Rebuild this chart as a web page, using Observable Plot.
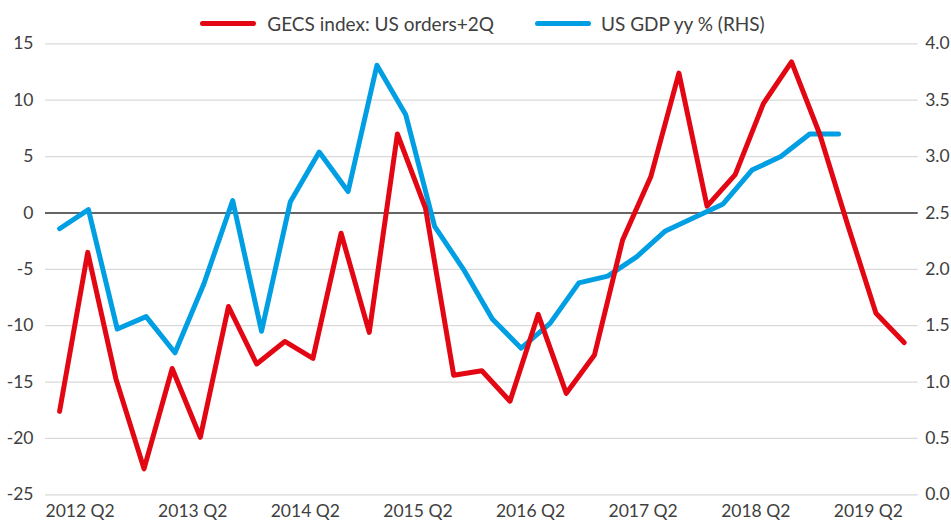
<!DOCTYPE html>
<html>
<head>
<meta charset="utf-8">
<script src="https://cdn.jsdelivr.net/npm/d3@7"></script>
<script src="https://cdn.jsdelivr.net/npm/@observablehq/plot@0.6"></script>
<style>
  body { margin: 0; background: #fff; font-family: Lato, sans-serif; color: #404040; }
  #legend { height: 40px; box-sizing: border-box; padding-top: 7px; padding-left: 14px;
            display: flex; justify-content: center; align-items: center; font-size: 19px; }
  .sw { display: inline-block; width: 56px; height: 5px; border-radius: 2.5px; margin-right: 11px; }
  .item { display: flex; align-items: center; }
  .item + .item { margin-left: 41px; }
  #chart svg { display: block; overflow: visible; }
</style>
</head>
<body>
<div id="legend"></div>
<div id="chart"></div>
<script>
// ---- data ----
const quarterLabels = ["2012 Q2", "2013 Q2", "2014 Q2", "2015 Q2", "2016 Q2", "2017 Q2", "2018 Q2", "2019 Q2"];
// GECS index: US orders +2Q (LHS), one value per quarter from 2012 Q2 to 2019 Q4
const gecsOrders = [-17.6, -3.5, -14.7, -22.7, -13.8, -19.9, -8.3, -13.4, -11.4, -12.9,
                    -1.8, -10.6, 7.0, 0.4, -14.4, -14.0, -16.7, -9.0, -16.0, -12.6,
                    -2.4, 3.2, 12.4, 0.6, 3.4, 9.7, 13.4, 7.0, -1.1, -8.9, -11.5];
// US GDP yy % (RHS)
const usGdp = [2.36, 2.53, 1.47, 1.58, 1.26, 1.87, 2.61, 1.45, 2.60, 3.04,
               2.69, 3.81, 3.37, 2.38, 2.00, 1.56, 1.30, 1.52, 1.88, 1.94,
               2.11, 2.34, 2.46, 2.58, 2.88, 3.00, 3.20, 3.20];
const seriesNames = ["GECS index: US orders+2Q", "US GDP yy % (RHS)"];
const seriesColors = ["#e30613", "#009fe3"];

// ---- scales helpers ----
// secondary (RHS) value axis: 2.5 aligned with 0 on LHS, 0.5 per 5 LHS units
const rhsToLhs = v => (v - 2.5) * 10;
const lhsToRhs = d => d / 10 + 2.5;
// secondary category axis for the GDP series (slightly wider spacing than the primary one)
const gdpX = d3.scaleLinear([0, usGdp.length - 1], [0, 27.67]);

const redData = gecsOrders.map((v, i) => ({i, v}));
const blueData = usGdp.map((v, i) => ({i: gdpX(i), v: rhsToLhs(v)}));
const labelData = quarterLabels.map((t, k) => ({t, i: k * 4 - 0.5}));
const yTicks = d3.range(-25, 16, 5);

// ---- legend ----
const legend = document.getElementById("legend");
seriesNames.forEach((n, k) => {
  const it = document.createElement("div");
  it.className = "item";
  it.innerHTML = `<span class="sw" style="background:${seriesColors[k]};${k ? "margin-right:10px" : ""}"></span><span>${n}</span>`;
  legend.appendChild(it);
});

// ---- chart ----
const chart = Plot.plot({
  width: 951,
  height: 480,
  marginTop: 3.3,
  marginBottom: 25.7,
  marginLeft: 45,
  marginRight: 33.3,
  style: {fontFamily: "Lato, sans-serif", fontSize: "17.5px", color: "#404040", background: "transparent"},
  x: {type: "linear", domain: [-0.5, gecsOrders.length - 0.5], axis: null},
  y: {domain: [-25, 15], axis: null},
  marks: [
    Plot.gridY(yTicks, {stroke: "#d9d9d9", strokeOpacity: 1, strokeWidth: 1.3}),
    Plot.ruleY([0], {stroke: "#3a3a3a", strokeWidth: 1.5}),
    Plot.axisY(yTicks, {anchor: "left", label: null, tickSize: 0, tickPadding: 12, tickFormat: d => String(d), fill: "#404040"}),
    Plot.axisY(yTicks, {anchor: "right", label: null, tickSize: 0, tickPadding: 7, tickFormat: d => lhsToRhs(d).toFixed(1), fill: "#404040"}),
    Plot.text(labelData, {x: "i", text: "t", frameAnchor: "bottom", textAnchor: "start", lineAnchor: "top", dy: 10, fill: "#404040"}),
    Plot.line(blueData, {x: "i", y: "v", stroke: seriesColors[1], strokeWidth: 5, strokeLinejoin: "round", strokeLinecap: "round"}),
    Plot.line(redData, {x: "i", y: "v", stroke: seriesColors[0], strokeWidth: 5, strokeLinejoin: "round", strokeLinecap: "round"})
  ]
});
document.getElementById("chart").appendChild(chart);
</script>
</body>
</html>
